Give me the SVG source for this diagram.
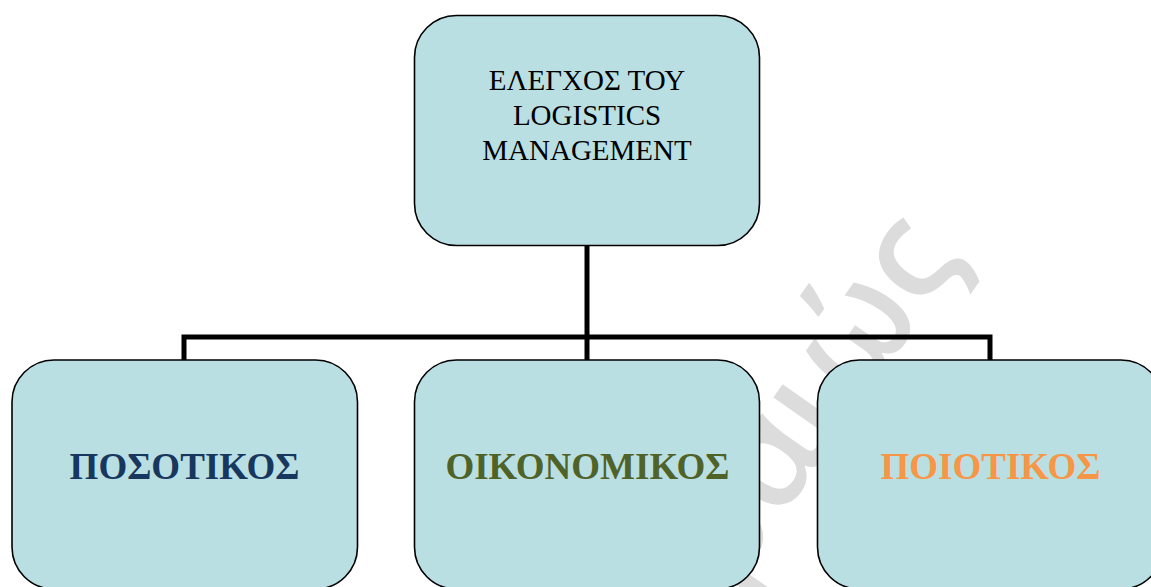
<svg xmlns="http://www.w3.org/2000/svg" width="1151" height="587" viewBox="0 0 1151 587">
  <style>
    .box { fill: #b9dfe3; stroke: #000; stroke-width: 1.6; }
    .conn { fill: none; stroke: #000; stroke-width: 5; stroke-linejoin: miter; }
    .top { font-family: "Liberation Serif", "Times New Roman", serif; font-size: 29px; fill: #000; text-anchor: middle; }
    .lbl { font-family: "Liberation Serif", "Times New Roman", serif; font-size: 37px; font-weight: bold; text-anchor: middle; }
    .wm { font-family: "Open Sans", "DejaVu Sans", sans-serif; font-size: 140px; font-weight: 600; fill: #dcdcdc; text-anchor: end; }
  </style>
  <rect width="1151" height="587" fill="#fff"/>
  <g id="watermark">
    <text class="wm" transform="translate(964,257) rotate(-55)">Πειραιώς</text>
  </g>
  <g id="connectors">
    <path class="conn" d="M587,245 V360"/>
    <path class="conn" d="M184,360 V337 H990 V360"/>
  </g>
  <g id="node-root">
    <rect class="box" x="414.5" y="15.5" width="345" height="230" rx="42" ry="42"/>
    <text class="top" x="587" y="90">ΕΛΕΓΧΟΣ ΤΟΥ</text>
    <text class="top" x="587" y="125">LOGISTICS</text>
    <text class="top" x="587" y="160">MANAGEMENT</text>
  </g>
  <g id="node-posotikos">
    <rect class="box" x="12" y="360" width="345.5" height="229" rx="42" ry="42"/>
    <text class="lbl" x="184.5" y="479" fill="#17375e">ΠΟΣΟΤΙΚΟΣ</text>
  </g>
  <g id="node-oikonomikos">
    <rect class="box" x="414.5" y="360" width="345" height="229" rx="42" ry="42"/>
    <text class="lbl" x="587.5" y="479" fill="#4f6228">ΟΙΚΟΝΟΜΙΚΟΣ</text>
  </g>
  <g id="node-poiotikos">
    <rect class="box" x="817.5" y="360" width="345.5" height="229" rx="42" ry="42"/>
    <text class="lbl" x="990.5" y="479" fill="#f79646">ΠΟΙΟΤΙΚΟΣ</text>
  </g>
</svg>
